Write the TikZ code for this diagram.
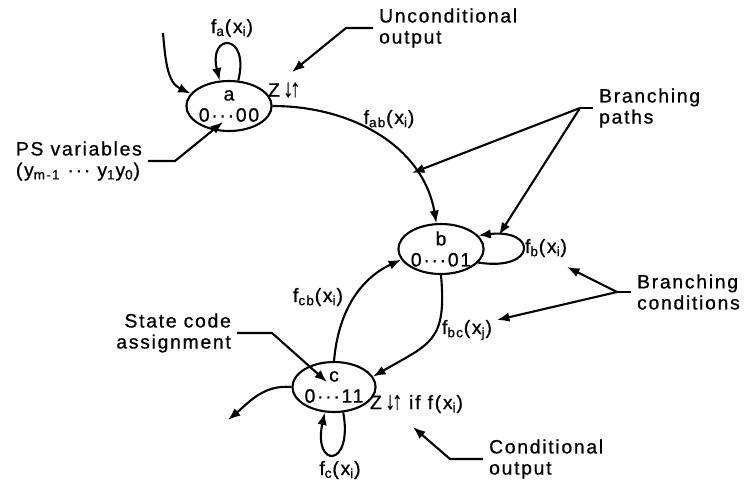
\documentclass[tikz,border=0pt]{standalone}
\usepackage{fontspec}
\setmainfont{Liberation Sans}[LetterSpace=9,FakeBold=0.8]
\usetikzlibrary{arrows.meta,shapes.geometric}

\newcommand{\sbs}[1]{\textsubscript{#1}}
\newcommand{\zud}{Z\kern2pt\scalebox{1}[1.3]{↓\kern-1.5pt↑}}

\begin{document}
\begin{tikzpicture}[x=0.02cm,y=0.02cm,line width=1.2pt,font=\fontsize{11}{12}\selectfont,
  arr/.style={-{Latex[length=2.5mm,width=1.9mm]}},
  state/.style={ellipse,draw,minimum width=1.44cm,minimum height=1cm,inner sep=0pt,align=center},
  annot/.style={inner sep=0pt,outer sep=3.5pt},
  lbl/.style={inner sep=0pt}]
\useasboundingbox (0,0) rectangle (750,485);
% states
\node[state] (a) at (229,379) {a\\0···00};
\node[state] (b) at (441,236) {b\\0···01};
\node[state] (c) at (334,98) {c\\0···11};
% transitions
\coordinate (ain) at (163,452);
\draw[arr] (ain) to[out=-85,in=155] (a.162);
\draw[arr] (a.70) .. controls +(12,48) and +(-12,48) .. (a.110);
\draw[arr] (a.east) to[out=0,in=100] (b.100);
\draw[arr] (b.-20) .. controls +(59,-9) and +(59,7) .. (b.20);
\draw[arr] (b.south) to[out=-85,in=30,looseness=1.4] (c.15);
\draw[arr] (c.north) to[out=85,in=205] (b.195);
\draw[arr] (c.-70) .. controls +(10,-56) and +(-12,-56) .. (c.-110);
\coordinate (cout) at (228,65);
\draw[arr] (c.west) to[out=175,in=40] (cout);
% edge labels
\node[lbl] (fa) at (232,457) {f\sbs{a}(x\sbs{i})};
\node[lbl] (fab) at (389,366) {f\sbs{ab}(x\sbs{i})};
\node[lbl,anchor=west] (fb) at (524,237) {f\sbs{b}(x\sbs{i})};
\node[lbl] (fcb) at (318,188) {f\sbs{cb}(x\sbs{i})};
\node[lbl] (fbc) at (467,155) {f\sbs{bc}(x\sbs{j})};
\node[lbl] (fc) at (340,15) {f\sbs{c}(x\sbs{i})};
\node[lbl,anchor=west] (za) at (267,395) {\zud};
\node[lbl,anchor=west] (zc) at (369,81) {\zud{} if f(x\sbs{i})};
% annotations
\node[annot,align=left,anchor=west] (uncond) at (373,457) {Unconditional\\output};
\coordinate (uncondtip) at (292,413);
\draw[arr] (uncond.west) -- ++(-27,0) -- (uncondtip);
\node[annot,align=left,anchor=east] (psvar) at (148,324) {PS variables\\(y\sbs{m-1} ··· y\sbs{1}y\sbs{0})};
\coordinate (pstip) at (223,363);
\draw[arr] (psvar.east) -- ++(27,0) -- (pstip);
\node[annot,align=left,anchor=west] (bpaths) at (593,377) {Branching\\paths};
\draw (bpaths.west) -- ++(-13,0) coordinate (bpj);
\coordinate (bptipa) at (412,312);
\coordinate (bptipb) at (499,250);
\draw[arr] (bpj) -- (bptipa);
\draw[arr] (bpj) -- (bptipb);
\node[annot,align=left,anchor=west] (bcond) at (631,193) {Branching\\conditions};
\draw (bcond.west) -- ++(-14,0) coordinate (bcj);
\coordinate (bctipa) at (567,218);
\coordinate (bctipb) at (497,165);
\draw[arr] (bcj) -- (bctipa);
\draw[arr] (bcj) -- (bctipb);
\node[annot,align=right,anchor=east] (stcode) at (237,152) {State code\\assignment};
\coordinate (sctip) at (327,103);
\draw[arr] (stcode.east) -- ++(35,0) -- (sctip);
\node[annot,align=left,anchor=west] (condout) at (483,26) {Conditional\\output};
\coordinate (cotip) at (413,58);
\draw[arr] (condout.west) -- ++(-33,0) -- (cotip);
\end{tikzpicture}
\end{document}
